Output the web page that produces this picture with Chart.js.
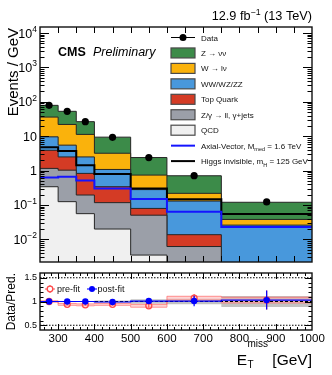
<!DOCTYPE html>
<html>
<head>
<meta charset="utf-8">
<script src="https://cdn.jsdelivr.net/npm/chart.js"></script>
<style>
html,body{margin:0;padding:0;background:#fff;}
#wrap{position:relative;width:332px;height:375px;overflow:hidden;}
#wrap canvas{position:absolute;left:0;top:0;}
</style>
</head>
<body>
<div id="wrap">
<canvas id="main" width="332" height="375"></canvas>
<canvas id="ratio" width="332" height="375"></canvas>
</div>
<script>
// ---------------- data ----------------
const binEdges   = [250, 300, 350, 400, 500, 600, 750, 1000];
const binCenters = [275, 325, 375, 450, 550, 675, 875];

// backgrounds, events / GeV (stacked bottom -> top)
const qcd      = [0.34, 0.125, 0.056, 0.020, 0.0035, 0.0005, 0.0003];
const zllGjets = [0.82, 0.905, 0.139, 0.097, 0.047, 0.0057, 0.0003];
const topQuark = [2.74, 1.47, 0.635, 0.223, 0.029, 0.0075, 0.0003];
const diboson  = [5.7, 3.0, 1.67, 0.74, 0.201, 0.1165, 0.0251];
const wlnu     = [26.4, 16.5, 8.8, 2.12, 0.46, 0.088, 0.012];
const znunu    = [43, 31, 15.2, 6.2, 1.66, 0.49, 0.082];

// signals
const axialVector = [0.63, 0.66, 0.52, 0.30, 0.15, 0.064, 0.023];
const higgsInv    = [4.8, 3.7, 1.44, 0.80, 0.30, 0.146, 0.055];

// data
const dataValues = [79, 53, 26.5, 9.3, 2.4, 0.71, 0.123];
const dataErrors = [1.5, 1.2, 0.6, 0.25, 0.09, 0.04, 0.012];

// ratio panel
const prefitRatio  = [1.00, 0.94, 0.93, 0.94, 0.91, 1.07, 1.03];
const prefitErr    = [0.02, 0.02, 0.02, 0.025, 0.04, 0.09, 0.2];
const prefitUnc    = [0.015, 0.02, 0.02, 0.02, 0.03, 0.04, 0.06];
const postfitRatio = [1.00, 1.00, 1.00, 0.99, 1.01, 1.01, 1.03];
const postfitErr   = [0.015, 0.015, 0.02, 0.025, 0.05, 0.11, 0.2];
const postfitUnc   = [0.01, 0.01, 0.012, 0.02, 0.045, 0.06, 0.115];
const ratioRefLines = [0.5, 1, 1.5];

// tick labels
const mainYTicks = [1e-2, 1e-1, 1, 10, 1e2, 1e3, 1e4];
const mainYTickLabels = [['10','\u22122'],['10','\u22121'],['1',''],['10',''],['10','2'],['10','3'],['10','4']];
const ratioXTicks = [300, 400, 500, 600, 700, 800, 900, 1000];
const ratioYTicks = [0.5, 1, 1.5];

// legend
const legendLabels = ['Data', 'Z \u2192 \u03bd\u03bd', 'W \u2192 l\u03bd', 'WW/WZ/ZZ', 'Top Quark',
  'Z/\u03b3 \u2192 ll, \u03b3+jets', 'QCD'];

// ---------------- style ----------------
const FONT = "'Liberation Sans', Arial, Helvetica, sans-serif";
const C = {
  qcd: '#f0f0f0', zll: '#9b9fa8', top: '#d43b25', vv: '#4898dc', w: '#fab20c', z: '#3c8b49',
  av: '#1414ff', higgs: '#000000', pre: '#ff4a4a', post: '#0000ff'
};
Chart.defaults.font.family = FONT;
Chart.defaults.color = '#000';

function fnt(size, style) { return (style || '') + ' ' + size + 'px ' + FONT; }
function drawRich(ctx, parts, x, y, align) {
  let w = 0;
  parts.forEach(p => { ctx.font = fnt(p[1], p[3]); w += ctx.measureText(p[0]).width; });
  let cx = align === 'right' ? x - w : (align === 'center' ? x - w / 2 : x);
  ctx.textAlign = 'left'; ctx.textBaseline = 'alphabetic';
  parts.forEach(p => { ctx.font = fnt(p[1], p[3]); ctx.fillText(p[0], cx, y + (p[2] || 0)); cx += ctx.measureText(p[0]).width; });
  return w;
}
function stepData(vals) {
  const d = vals.map((v, i) => ({ x: binEdges[i], y: v }));
  d.push({ x: binEdges[binEdges.length - 1], y: vals[vals.length - 1] });
  return d;
}
function errSegments(xs, center, err) {
  const d = [];
  xs.forEach((x, i) => { d.push({ x: x, y: center[i] - err[i] }, { x: x, y: center[i] + err[i] }, { x: x, y: null }); });
  return d;
}

// ---------------- main panel ----------------
const stackDefs = [
  { vals: qcd, color: C.qcd }, { vals: zllGjets, color: C.zll }, { vals: topQuark, color: C.top },
  { vals: diboson, color: C.vv }, { vals: wlnu, color: C.w }, { vals: znunu, color: C.z }
];
const mainDatasets = [];
let running = binCenters.map(() => 0);
stackDefs.forEach((s, k) => {
  running = running.map((r, i) => r + s.vals[i]);
  mainDatasets.push({ data: stepData(running), stepped: true, fill: 'start', backgroundColor: s.color,
    borderColor: '#262626', borderWidth: 1, pointRadius: 0, order: 10 + k });
});
mainDatasets.push({ data: stepData(higgsInv), stepped: true, fill: false, borderColor: C.higgs, borderWidth: 2, pointRadius: 0, order: 3 });
mainDatasets.push({ data: stepData(axialVector), stepped: true, fill: false, borderColor: C.av, borderWidth: 2, pointRadius: 0, order: 2 });
mainDatasets.push({ data: errSegments(binCenters, dataValues, dataErrors), fill: false, borderColor: '#000', borderWidth: 1.2, pointRadius: 0, order: 1 });
mainDatasets.push({ data: binCenters.map((x, i) => ({ x: x, y: dataValues[i] })), showLine: false, fill: false,
  pointRadius: 3.6, pointBackgroundColor: '#000', pointBorderColor: '#000', pointBorderWidth: 0, order: 0 });

const mainDecor = {
  id: 'mainDecor',
  afterDraw(chart) {
    const ctx = chart.ctx, a = chart.chartArea, xs = chart.scales.x, ys = chart.scales.y;
    ctx.save();
    ctx.strokeStyle = '#000'; ctx.lineWidth = 1;
    ctx.beginPath();
    for (let v = binEdges[0] + 50; v < binEdges[binEdges.length - 1]; v += 50) {
      const px = Math.round(xs.getPixelForValue(v)) + 0.5;
      const len = 6;
      ctx.moveTo(px, a.bottom); ctx.lineTo(px, a.bottom - len);
      ctx.moveTo(px, a.top); ctx.lineTo(px, a.top + len);
    }
    for (let k = -3; k <= 4; k++) for (let m = 1; m <= 9; m++) {
      const v = m * Math.pow(10, k);
      if (v < ys.min || v > ys.max) continue;
      const py = Math.round(ys.getPixelForValue(v)) + 0.5;
      const len = m === 1 ? 9 : 4.5;
      ctx.moveTo(a.left, py); ctx.lineTo(a.left + len, py);
      ctx.moveTo(a.right, py); ctx.lineTo(a.right - len, py);
    }
    ctx.stroke();
    ctx.lineWidth = 1.4; ctx.strokeStyle = '#111';
    ctx.strokeRect(a.left, a.top, a.right - a.left, a.bottom - a.top);

    ctx.fillStyle = '#000';
    // y tick labels
    mainYTicks.forEach((v, i) => {
      const py = ys.getPixelForValue(v);
      const lab = mainYTickLabels[i];
      const parts = [[lab[0], 12.5, 0]];
      if (lab[1]) parts.push([lab[1], 8.5, -5.5]);
      drawRich(ctx, parts, 37, py + 4.5, 'right');
    });
    // y title
    ctx.save();
    ctx.translate(17.5, 28); ctx.rotate(-Math.PI / 2);
    ctx.font = fnt(15); ctx.textAlign = 'right'; ctx.textBaseline = 'alphabetic';
    ctx.fillText('Events / GeV', 0, 0);
    ctx.restore();
    // top title
    drawRich(ctx, [['12.9 fb', 12.7], ['\u22121', 8.8, -5.5], [' (13 TeV)', 12.7]], 312, 20, 'right');
    // CMS Preliminary
    drawRich(ctx, [['CMS', 12.5, 0, 'bold']], 58, 56, 'left');
    drawRich(ctx, [['Preliminary', 12.5, 0, 'italic']], 93, 56, 'left');

    // legend
    const x0 = 171, bw = 24, bh = 10, tx = 201, y0 = 37.5, dy = 15.45;
    const boxColors = [null, C.z, C.w, C.vv, C.top, C.zll, C.qcd];
    ctx.fillStyle = '#111';
    legendLabels.forEach((lab, i) => {
      const yc = y0 + i * dy;
      if (i === 0) {
        ctx.strokeStyle = '#000'; ctx.lineWidth = 1;
        ctx.beginPath(); ctx.moveTo(x0, yc); ctx.lineTo(x0 + bw, yc); ctx.stroke();
        ctx.fillStyle = '#000';
        ctx.beginPath(); ctx.arc(x0 + bw / 2, yc, 3.5, 0, Math.PI * 2); ctx.fill();
      } else {
        ctx.fillStyle = boxColors[i];
        ctx.fillRect(x0, yc - bh / 2, bw, bh);
        ctx.strokeStyle = '#4a4a4a'; ctx.lineWidth = 1.2;
        ctx.strokeRect(x0, yc - bh / 2, bw, bh);
      }
      ctx.fillStyle = '#111';
      drawRich(ctx, [[lab, 8]], tx, yc + 3, 'left');
    });
    const lineEntries = [
      { color: C.av, parts: [['Axial-Vector, M', 8], ['med', 5.5, 2.5], [' = 1.6 TeV', 8]] },
      { color: C.higgs, parts: [['Higgs invisible, m', 8], ['H', 5.5, 2.5], [' = 125 GeV', 8]] }
    ];
    lineEntries.forEach((e, j) => {
      const yc = y0 + (legendLabels.length + j) * dy;
      ctx.strokeStyle = e.color; ctx.lineWidth = 2;
      ctx.beginPath(); ctx.moveTo(x0, yc); ctx.lineTo(x0 + bw, yc); ctx.stroke();
      ctx.fillStyle = '#111';
      drawRich(ctx, e.parts, tx, yc + 3, 'left');
    });
    ctx.restore();
  }
};

new Chart(document.getElementById('main'), {
  type: 'line',
  data: { datasets: mainDatasets },
  options: {
    responsive: false, animation: false, events: [],
    layout: { padding: { left: 40, right: 20, top: 27, bottom: 113 } },
    plugins: { legend: { display: false }, tooltip: { enabled: false }, colors: { enabled: false } },
    scales: {
      x: { type: 'linear', min: binEdges[0], max: binEdges[binEdges.length - 1], display: false },
      y: { type: 'logarithmic', min: 0.0022, max: 15000, display: false }
    }
  },
  plugins: [mainDecor]
});

// ---------------- ratio panel ----------------
const xMin = binEdges[0], xMax = binEdges[binEdges.length - 1];
const ratioDatasets = [
  { data: stepData(postfitUnc.map(u => 1 - u)), stepped: true, fill: false, borderWidth: 0, borderColor: 'rgba(0,0,0,0)', pointRadius: 0, order: 30 },
  { data: stepData(postfitUnc.map(u => 1 + u)), stepped: true, fill: '-1', backgroundColor: 'rgba(175,175,175,0.75)', borderWidth: 0, borderColor: 'rgba(0,0,0,0)', pointRadius: 0, order: 29 },
  { data: stepData(prefitRatio.map((v, i) => v - prefitUnc[i])), stepped: true, fill: false, borderColor: 'rgba(255,100,100,0.7)', borderWidth: 1, pointRadius: 0, order: 28 },
  { data: stepData(prefitRatio.map((v, i) => v + prefitUnc[i])), stepped: true, fill: '-1', backgroundColor: 'rgba(255,160,160,0.45)', borderColor: 'rgba(255,100,100,0.7)', borderWidth: 1, pointRadius: 0, order: 27 }
];
ratioRefLines.forEach((v, i) => {
  ratioDatasets.push({ data: [{ x: xMin, y: v }, { x: xMax, y: v }], fill: false, borderColor: '#000', borderWidth: 1,
    borderDash: v === 1 ? [3, 2] : [1.5, 1.5], pointRadius: 0, order: 20 - i });
});
ratioDatasets.push({ data: errSegments(binCenters, prefitRatio, prefitErr), fill: false, borderColor: C.pre, borderWidth: 1.1, pointRadius: 0, order: 6 });
ratioDatasets.push({ data: binCenters.map((x, i) => ({ x: x, y: prefitRatio[i] })), showLine: false, fill: false,
  pointRadius: 3, pointBackgroundColor: 'rgba(0,0,0,0)', pointBorderColor: C.pre, pointBorderWidth: 1.3, order: 5 });
ratioDatasets.push({ data: stepData(postfitRatio), stepped: true, fill: false, borderColor: C.post, borderWidth: 1.2, pointRadius: 0, order: 4 });
ratioDatasets.push({ data: errSegments(binCenters, postfitRatio, postfitErr), fill: false, borderColor: C.post, borderWidth: 1.2, pointRadius: 0, order: 3 });
ratioDatasets.push({ data: binCenters.map((x, i) => ({ x: x, y: postfitRatio[i] })), showLine: false, fill: false,
  pointRadius: 3.2, pointBackgroundColor: C.post, pointBorderColor: C.post, pointBorderWidth: 0, order: 2 });

const ratioDecor = {
  id: 'ratioDecor',
  afterDraw(chart) {
    const ctx = chart.ctx, a = chart.chartArea, xs = chart.scales.x, ys = chart.scales.y;
    ctx.save();
    ctx.strokeStyle = '#000'; ctx.lineWidth = 1;
    ctx.beginPath();
    for (let v = xMin + 10; v < xMax; v += 20) {
      const px = Math.round(xs.getPixelForValue(v)) + 0.5;
      const len = v % 100 === 0 ? 6 : 3;
      ctx.moveTo(px, a.bottom); ctx.lineTo(px, a.bottom - len);
      ctx.moveTo(px, a.top); ctx.lineTo(px, a.top + len);
    }
    for (let t = 5; t <= 15; t++) {
      const v = t / 10;
      const py = Math.round(ys.getPixelForValue(v)) + 0.5;
      const len = (t % 5 === 0) ? 7 : 3.5;
      ctx.moveTo(a.left, py); ctx.lineTo(a.left + len, py);
      ctx.moveTo(a.right, py); ctx.lineTo(a.right - len, py);
    }
    ctx.stroke();
    ctx.lineWidth = 1.4; ctx.strokeStyle = '#111';
    ctx.strokeRect(a.left, a.top, a.right - a.left, a.bottom - a.top);

    // legend
    const ly = 289;
    ctx.strokeStyle = C.pre; ctx.lineWidth = 1.1;
    ctx.beginPath();
    ctx.moveTo(45, ly); ctx.lineTo(55, ly); ctx.moveTo(50, ly - 4); ctx.lineTo(50, ly + 4); ctx.stroke();
    ctx.fillStyle = '#fff';
    ctx.beginPath(); ctx.arc(50, ly, 2.8, 0, Math.PI * 2); ctx.fill(); ctx.lineWidth = 1.3; ctx.stroke();
    ctx.strokeStyle = C.post; ctx.fillStyle = C.post; ctx.lineWidth = 1.1;
    ctx.beginPath(); ctx.moveTo(87, ly); ctx.lineTo(97, ly); ctx.stroke();
    ctx.beginPath(); ctx.arc(92, ly, 3, 0, Math.PI * 2); ctx.fill();
    ctx.fillStyle = '#111';
    drawRich(ctx, [['pre-fit', 9]], 57, ly + 3.2, 'left');
    drawRich(ctx, [['post-fit', 9]], 97.5, ly + 3.2, 'left');

    // y title
    ctx.save();
    ctx.translate(15, 273); ctx.rotate(-Math.PI / 2);
    ctx.font = fnt(12); ctx.textAlign = 'right'; ctx.textBaseline = 'alphabetic'; ctx.fillStyle = '#000';
    ctx.fillText('Data/Pred.', 0, 0);
    ctx.restore();

    // x title: E_T^miss [GeV]
    ctx.fillStyle = '#000';
    ctx.font = fnt(15.5);
    const gev = ' [GeV]';
    const wG = ctx.measureText(gev).width;
    const wE = ctx.measureText('E').width;
    ctx.font = fnt(10);
    const wMiss = ctx.measureText('miss').width;
    const xEnd = 312, base = 365;
    const xE = xEnd - wG - wMiss - wE - 0.5;
    ctx.textAlign = 'left'; ctx.textBaseline = 'alphabetic';
    ctx.font = fnt(15.5); ctx.fillText('E', xE, base);
    ctx.font = fnt(10); ctx.fillText('miss', xE + wE + 0.5, base - 18.3);
    ctx.fillText('T', xE + wE + 0.5, base + 3);
    ctx.font = fnt(15.5); ctx.fillText(gev, xEnd - wG, base);
    ctx.restore();
  }
};

new Chart(document.getElementById('ratio'), {
  type: 'line',
  data: { datasets: ratioDatasets },
  options: {
    responsive: false, animation: false, events: [],
    layout: { padding: { left: 0, right: 20, top: 273, bottom: 0 } },
    plugins: { legend: { display: false }, tooltip: { enabled: false }, colors: { enabled: false } },
    scales: {
      x: {
        type: 'linear', min: xMin, max: xMax,
        grid: { display: false, drawTicks: false }, border: { display: false },
        afterBuildTicks: s => { s.ticks = ratioXTicks.map(v => ({ value: v })); },
        afterFit: s => { s.height = 45; },
        ticks: { padding: 1.5, maxRotation: 0, autoSkip: false, color: '#000', font: { size: 11.5 }, callback: v => String(v) }
      },
      y: {
        type: 'linear', min: 0.4, max: 1.6,
        grid: { display: false, drawTicks: false }, border: { display: false },
        afterBuildTicks: s => { s.ticks = ratioYTicks.map(v => ({ value: v })); },
        afterFit: s => { s.width = 40; },
        ticks: { padding: 3, color: '#000', font: { size: 9 }, callback: v => String(v) }
      }
    }
  },
  plugins: [ratioDecor]
});
</script>
</body>
</html>
